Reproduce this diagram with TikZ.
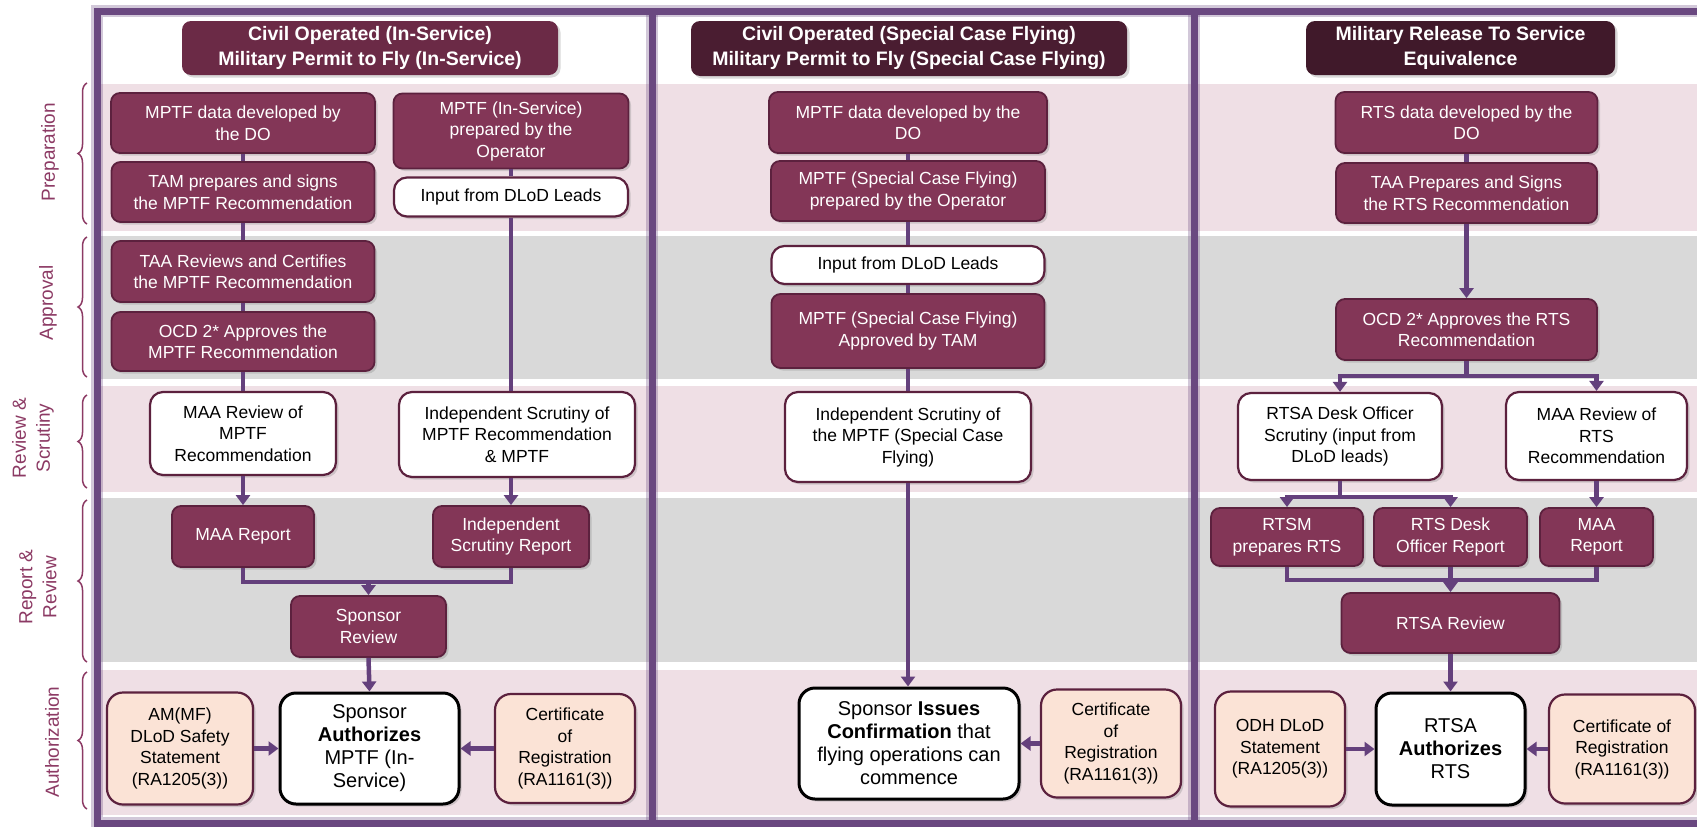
\documentclass[tikz,border=0pt]{standalone}
\usepackage{fontspec}
\setmainfont{Liberation Sans}
\usetikzlibrary{arrows.meta,shadows,decorations.pathreplacing}

\definecolor{plum}{RGB}{131,54,87}
\definecolor{plumedge}{RGB}{92,33,62}
\definecolor{headone}{RGB}{107,42,70}
\definecolor{headtwo}{RGB}{74,29,49}
\definecolor{headthree}{RGB}{64,25,42}
\definecolor{peach}{RGB}{251,227,214}
\definecolor{bandpink}{RGB}{239,223,229}
\definecolor{bandgray}{RGB}{217,217,217}
\definecolor{framecol}{RGB}{106,72,128}
\definecolor{linkcol}{RGB}{100,64,124}
\definecolor{labelcol}{RGB}{140,58,100}

\tikzset{
	basebox/.style={rounded corners=9pt, line width=1.8pt, align=center, inner sep=2pt,
		font=\fontsize{17.5}{21.5}\selectfont,
		drop shadow={opacity=0.3, shadow xshift=2.5pt, shadow yshift=-2.5pt}},
	plumbox/.style={basebox, fill=plum, draw=plumedge, text=white},
	whitebox/.style={basebox, fill=white, draw=plumedge, rounded corners=13pt, line width=2.2pt},
	peachbox/.style={basebox, fill=peach, draw=plumedge, rounded corners=16pt, line width=2.2pt},
	authbox/.style={basebox, fill=white, draw=black, rounded corners=16pt, line width=3pt,
		font=\fontsize{20}{23}\selectfont},
	headbox/.style={basebox, draw=none, text=white, font=\bfseries\fontsize{19.5}{25}\selectfont},
	sidelabel/.style={rotate=90, text=labelcol, align=center, font=\fontsize{19}{24}\selectfont},
	bandbrace/.style={draw=labelcol, line width=1.5pt, decorate, decoration={brace, amplitude=9pt}},
	frameline/.style={draw=framecol, line width=7pt, preaction={draw=framecol, draw opacity=0.3, line width=12pt}},
	flowline/.style={draw=linkcol, line width=4.5pt},
	flowarrow/.style={flowline, -{Triangle[length=10pt, width=14pt]}}
}

\begin{document}
\begin{tikzpicture}[x=1pt, y=-1pt]
	\useasboundingbox (0,0) rectangle (1697,827);
	% Bands:
	\fill[bandpink] (97,84) rectangle (1697,231);
	\fill[bandgray] (97,236) rectangle (1697,379);
	\fill[bandpink] (97,386) rectangle (1697,492);
	\fill[bandgray] (97,498) rectangle (1697,662);
	\fill[bandpink] (97,670) rectangle (1697,815);
	% Column frames:
	\draw[frameline] (1710,11) -- (97,11) -- (97,823) -- (1710,823);
	\draw[frameline] (652,11) -- (652,823);
	\draw[frameline] (1194,11) -- (1194,823);

	% Side labels and braces:
	\node[sidelabel] (lprep) at (50,152){Preparation};
	\node[sidelabel] (lappr) at (48,303){Approval};
	\node[sidelabel] (lrevs) at (33,438){Review \&\\Scrutiny};
	\node[sidelabel] (lrepr) at (38,587){Report \&\\Review};
	\node[sidelabel] (lauth) at (52,742){Authorization};
	\draw[bandbrace] (87,224) -- (87,83);
	\draw[bandbrace] (87,377) -- (87,237);
	\draw[bandbrace] (87,488) -- (87,395);
	\draw[bandbrace] (87,662) -- (87,500);
	\draw[bandbrace] (87,809) -- (87,672);

	% Headers:
	\node[headbox, fill=headone, minimum width=376pt, minimum height=54pt] (h1) at (370,48){Civil Operated (In-Service)\\Military Permit to Fly (In-Service)};
	\node[headbox, fill=headtwo, minimum width=436pt, minimum height=55pt] (h2) at (909,48.5){Civil Operated (Special Case Flying)\\Military Permit to Fly (Special Case Flying)};
	\node[headbox, fill=headthree, minimum width=309pt, minimum height=54pt] (h3) at (1460.5,48){Military Release To Service\\Equivalence};

	% Column 1, nodes:
	\node[plumbox, minimum width=264pt, minimum height=60pt] (a1) at (243,123){MPTF data developed by\\the DO};
	\node[plumbox, minimum width=263pt, minimum height=60pt] (a2) at (243,192){TAM prepares and signs\\the MPTF Recommendation};
	\node[plumbox, minimum width=235pt, minimum height=75pt] (a3) at (511,131){MPTF (In-Service)\\prepared by the\\Operator};
	\node[whitebox, minimum width=234pt, minimum height=39pt] (a4) at (511,197){Input from DLoD Leads};
	\node[plumbox, minimum width=263pt, minimum height=61pt] (a5) at (243,271.5){TAA Reviews and Certifies\\the MPTF Recommendation};
	\node[plumbox, minimum width=263pt, minimum height=59pt] (a6) at (243,341.5){OCD 2* Approves the\\MPTF Recommendation};
	\node[whitebox, minimum width=186pt, minimum height=83pt] (a7) at (243,433.5){MAA Review of\\MPTF\\Recommendation};
	\node[whitebox, minimum width=236pt, minimum height=85pt] (a8) at (517,434.5){Independent Scrutiny of\\MPTF Recommendation\\\& MPTF};
	\node[plumbox, minimum width=142pt, minimum height=61pt] (a9) at (243,536.5){MAA Report};
	\node[plumbox, minimum width=156pt, minimum height=61pt] (a10) at (511,536.5){Independent\\Scrutiny Report};
	\node[plumbox, minimum width=155pt, minimum height=61pt] (a11) at (368.5,626.5){Sponsor\\Review};
	\node[authbox, minimum width=179pt, minimum height=111pt] (a12) at (369.5,748.5){Sponsor\\\textbf{Authorizes}\\MPTF (In-\\Service)};
	\node[peachbox, minimum width=146pt, minimum height=112pt] (a13) at (180,748.5){AM(MF)\\DLoD Safety\\Statement\\(RA1205(3))};
	\node[peachbox, minimum width=140pt, minimum height=109pt] (a14) at (565,748.5){Certificate\\of\\Registration\\(RA1161(3))};

	% Column 2, nodes:
	\node[plumbox, minimum width=278pt, minimum height=61pt] (b1) at (908,122.5){MPTF data developed by the\\DO};
	\node[plumbox, minimum width=274pt, minimum height=60pt] (b2) at (908,191){MPTF (Special Case Flying)\\prepared by the Operator};
	\node[whitebox, minimum width=273pt, minimum height=38pt] (b3) at (908,265){Input from DLoD Leads};
	\node[plumbox, minimum width=273pt, minimum height=74pt] (b4) at (908,331){MPTF (Special Case Flying)\\Approved by TAM};
	\node[whitebox, minimum width=246pt, minimum height=90pt] (b5) at (908,437){Independent Scrutiny of\\the MPTF (Special Case\\Flying)};
	\node[authbox, minimum width=220pt, minimum height=111pt] (b6) at (909,743.5){Sponsor \textbf{Issues}\\\textbf{Confirmation} that\\flying operations can\\commence};
	\node[peachbox, minimum width=140pt, minimum height=108pt] (b7) at (1111,743.5){Certificate\\of\\Registration\\(RA1161(3))};

	% Column 3, nodes:
	\node[plumbox, minimum width=262pt, minimum height=61pt] (c1) at (1466.5,122.5){RTS data developed by the\\DO};
	\node[plumbox, minimum width=261pt, minimum height=60pt] (c2) at (1466.5,193){TAA Prepares and Signs\\the RTS Recommendation};
	\node[plumbox, minimum width=261pt, minimum height=61pt] (c3) at (1466.5,329.5){OCD 2* Approves the RTS\\Recommendation};
	\node[whitebox, minimum width=204pt, minimum height=87pt] (c4) at (1340,436.5){RTSA Desk Officer\\Scrutiny (input from\\DLoD leads)};
	\node[whitebox, minimum width=181pt, minimum height=88pt] (c5) at (1596.5,436){MAA Review of\\RTS\\Recommendation};
	\node[plumbox, minimum width=152pt, minimum height=58pt] (c6) at (1287,537){RTSM\\prepares RTS};
	\node[plumbox, minimum width=153pt, minimum height=58pt] (c7) at (1450.5,537){RTS Desk\\Officer Report};
	\node[plumbox, minimum width=113pt, minimum height=58pt] (c8) at (1596.5,537){MAA\\Report};
	\node[plumbox, minimum width=218pt, minimum height=60pt] (c9) at (1450.5,623){RTSA Review};
	\node[authbox, minimum width=149pt, minimum height=112pt] (c10) at (1450.5,749){RTSA\\\textbf{Authorizes}\\RTS};
	\node[peachbox, minimum width=130pt, minimum height=115pt] (c11) at (1280,749){ODH DLoD\\Statement\\(RA1205(3))};
	\node[peachbox, minimum width=146pt, minimum height=109pt] (c12) at (1622,749){Certificate of\\Registration\\(RA1161(3))};

	% Column 1, connectors:
	\draw[flowline] (a1.south) -- (a2.north);
	\draw[flowline] (a2.south) -- (a5.north);
	\draw[flowline] (a5.south) -- (a6.north);
	\draw[flowline] (a6.south) -- (a7.north);
	\draw[flowline] (a3.south) -- (a4.north);
	\draw[flowline] (a4.south) -- (a4.south |- a8.north);
	\draw[flowarrow] (a7.south) -- (a9.north);
	\draw[flowarrow] (a10.north |- a8.south) -- (a10.north);
	\coordinate (m1) at (368.5,582);
	\draw[flowline] (a9.south) |- (m1) -| (a10.south);
	\draw[flowarrow] (m1) -- (a11.north);
	\draw[flowarrow] (a11.south) -- (a12.north);
	\draw[flowarrow] (a13.east) -- (a12.west);
	\draw[flowarrow] (a14.west) -- (a12.east);

	% Column 2, connectors:
	\draw[flowline] (b1.south) -- (b2.north);
	\draw[flowline] (b2.south) -- (b3.north);
	\draw[flowline] (b3.south) -- (b4.north);
	\draw[flowline] (b4.south) -- (b5.north);
	\draw[flowarrow] (b5.south) -- (b5.south |- b6.north);
	\draw[flowarrow] (b7.west) -- (b6.east);

	% Column 3, connectors:
	\draw[flowline] (c1.south) -- (c2.north);
	\draw[flowarrow] (c2.south) -- (c3.north);
	\coordinate (s1) at (1466.5,376);
	\draw[flowline] (c3.south) -- (s1);
	\draw[flowarrow] (s1) -| (c4.north);
	\draw[flowarrow] (s1) -| (c5.north);
	\coordinate (s2) at (1340,497);
	\draw[flowline] (c4.south) -- (s2);
	\draw[flowarrow] (s2) -| (c6.north);
	\draw[flowarrow] (s2) -| (c7.north);
	\draw[flowarrow] (c5.south) -- (c8.north);
	\coordinate (m2) at (1450.5,580);
	\draw[flowline] (c6.south) |- (m2) -| (c8.south);
	\draw[flowline] (c7.south) -- (m2);
	\draw[flowarrow] (m2) -- (c9.north);
	\draw[flowarrow] (c9.south) -- (c10.north);
	\draw[flowarrow] (c11.east) -- (c10.west);
	\draw[flowarrow] (c12.west) -- (c10.east);
\end{tikzpicture}
\end{document}
